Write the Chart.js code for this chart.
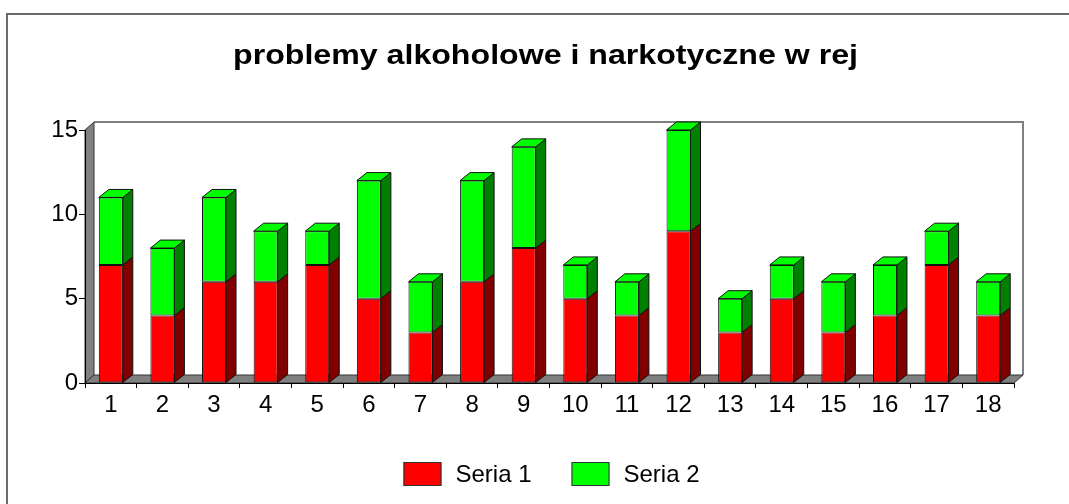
<!DOCTYPE html>
<html>
<head>
<meta charset="utf-8">
<script src="https://cdn.jsdelivr.net/npm/chart.js@4/dist/chart.umd.min.js"></script>
<style>
  html, body { margin: 0; padding: 0; background: #ffffff; }
  canvas { display: block; }
</style>
</head>
<body>
<canvas id="chart" width="1069" height="504"></canvas>
<script>
// ---- data ----
const categories = ['1','2','3','4','5','6','7','8','9','10','11','12','13','14','15','16','17','18'];
const seria1 = [7, 4, 6, 6, 7, 5, 3, 6, 8, 5, 4, 9, 3, 5, 3, 4, 7, 4];
const seria2 = [4, 4, 5, 3, 2, 7, 3, 6, 6, 2, 2, 6, 2, 2, 3, 3, 2, 2];
const yTickValues = [0, 5, 10, 15];
const seriesNames = ['Seria 1', 'Seria 2'];
const chartTitle = 'problemy alkoholowe i narkotyczne w rej';

// ---- style ----
const FONT = '"Liberation Sans", Arial, Helvetica, sans-serif';
const frontColors = ['#ff0000', '#00ff00'];
const sideColors  = ['#800000', '#008000'];
const topColors   = ['#ff0000', '#00ff00'];
const EDGE = '#111111';
const BAR_DEPTH  = { dx: 10, dy: 8 };
const WALL_DEPTH = { dx: 9,  dy: 8 };

function poly(ctx, pts, fill, stroke, lw) {
  ctx.beginPath();
  ctx.moveTo(pts[0][0], pts[0][1]);
  for (let i = 1; i < pts.length; i++) ctx.lineTo(pts[i][0], pts[i][1]);
  ctx.closePath();
  if (fill) { ctx.fillStyle = fill; ctx.fill(); }
  if (stroke) { ctx.strokeStyle = stroke; ctx.lineWidth = lw || 1; ctx.stroke(); }
}

// Panel frame, 3D walls, bar sides/tops, title and legend
const pseudo3d = {
  id: 'pseudo3d',
  beforeDraw(chart) {
    const ctx = chart.ctx;
    const y = chart.scales.y;
    const a = chart.chartArea;
    const yTop = y.getPixelForValue(y.max);
    const yBot = y.getPixelForValue(0);
    const { dx, dy } = WALL_DEPTH;
    ctx.save();
    ctx.fillStyle = '#ffffff';
    ctx.fillRect(0, 0, chart.width, chart.height);

    // outer panel border (top and left)
    ctx.strokeStyle = '#6a6a6a';
    ctx.lineWidth = 2;
    ctx.beginPath();
    ctx.moveTo(7, chart.height + 5);
    ctx.lineTo(7, 14);
    ctx.lineTo(chart.width + 5, 14);
    ctx.stroke();

    // back wall outline
    ctx.strokeStyle = '#808080';
    ctx.lineWidth = 2;
    ctx.beginPath();
    ctx.moveTo(a.left + dx, yTop - dy);
    ctx.lineTo(a.right + dx, yTop - dy);
    ctx.lineTo(a.right + dx, yBot - dy);
    ctx.stroke();

    // left side wall
    poly(ctx, [[a.left, yBot], [a.left, yTop], [a.left + dx, yTop - dy], [a.left + dx, yBot - dy]],
         '#808080', '#333333', 1);
    // floor
    poly(ctx, [[a.left, yBot], [a.right, yBot], [a.right + dx, yBot - dy], [a.left + dx, yBot - dy]],
         '#808080', '#333333', 1);
    ctx.restore();
  },
  afterDatasetsDraw(chart) {
    const ctx = chart.ctx;
    const metas = chart.getSortedVisibleDatasetMetas();
    const { dx, dy } = BAR_DEPTH;
    ctx.save();
    ctx.lineJoin = 'round';
    for (let i = 0; i < categories.length; i++) {
      // topmost non-empty segment gets the lid
      let topK = -1;
      metas.forEach((m, k) => { if (chart.data.datasets[m.index].data[i] > 0) topK = k; });
      metas.forEach((m, k) => {
        const v = chart.data.datasets[m.index].data[i];
        if (!(v > 0)) return;
        const bar = m.data[i];
        const p = bar.getProps(['x', 'y', 'base', 'width'], true);
        const L = p.x - p.width / 2, R = p.x + p.width / 2;
        const top = Math.min(p.y, p.base), bot = Math.max(p.y, p.base);
        poly(ctx, [[R, bot], [R + dx, bot - dy], [R + dx, top - dy], [R, top]],
             sideColors[m.index], EDGE, 1);
        if (k === topK) {
          poly(ctx, [[L, top], [L + dx, top - dy], [R + dx, top - dy], [R, top]],
               topColors[m.index], EDGE, 1);
        }
      });
    }
    ctx.restore();
  },
  afterDraw(chart) {
    const ctx = chart.ctx;
    const a = chart.chartArea;
    const cx = (a.left + a.right) / 2;
    ctx.save();

    // title: wide bold lettering
    ctx.fillStyle = '#000000';
    ctx.font = 'bold 27px ' + FONT;
    ctx.textAlign = 'center';
    ctx.textBaseline = 'alphabetic';
    ctx.translate(cx - 4, 64);
    ctx.scale(1.19, 1);
    ctx.fillText(chartTitle, 0, 0);
    ctx.restore();

    // legend
    ctx.save();
    ctx.font = '24px ' + FONT;
    ctx.textBaseline = 'middle';
    ctx.textAlign = 'left';
    const boxW = 38, boxH = 24, gap = 14, itemGap = 40;
    const widths = seriesNames.map(s => ctx.measureText(s).width);
    let total = 0;
    widths.forEach((w, i) => { total += boxW + gap + w + (i < widths.length - 1 ? itemGap : 0); });
    let x = cx + 2 - total / 2;
    const yMid = 474;
    seriesNames.forEach((name, i) => {
      ctx.fillStyle = frontColors[i];
      ctx.fillRect(x, yMid - boxH / 2, boxW, boxH);
      ctx.strokeStyle = '#333333';
      ctx.lineWidth = 1;
      ctx.strokeRect(x + 0.5, yMid - boxH / 2 + 0.5, boxW - 1, boxH - 1);
      ctx.fillStyle = '#000000';
      ctx.fillText(name, x + boxW + gap, yMid + 1);
      x += boxW + gap + widths[i] + itemGap;
    });
    ctx.restore();
  }
};

new Chart(document.getElementById('chart'), {
  type: 'bar',
  data: {
    labels: categories,
    datasets: [
      { label: seriesNames[0], data: seria1, backgroundColor: frontColors[0],
        borderColor: EDGE, borderWidth: 1, borderSkipped: false },
      { label: seriesNames[1], data: seria2, backgroundColor: frontColors[1],
        borderColor: EDGE, borderWidth: 1, borderSkipped: false }
    ]
  },
  options: {
    responsive: false,
    animation: false,
    devicePixelRatio: 1,
    layout: { padding: { top: 130, right: 55, bottom: 0, left: 0 } },
    datasets: { bar: { categoryPercentage: 1.0, barPercentage: 0.465 } },
    plugins: {
      legend: { display: false },
      title: { display: false },
      tooltip: { enabled: false }
    },
    scales: {
      x: {
        stacked: true,
        afterFit(scale) { scale.height = 121; },
        grid: { display: true, drawOnChartArea: false, drawTicks: true, tickLength: 5,
                color: '#000000', offset: true },
        border: { display: true, color: '#000000', width: 1 },
        ticks: { color: '#000000', font: { family: FONT, size: 24 }, padding: 3,
                 maxRotation: 0, autoSkip: false }
      },
      y: {
        stacked: true,
        min: 0,
        max: 15,
        afterFit(scale) { scale.width = 85; },
        afterBuildTicks(scale) { scale.ticks = yTickValues.map(v => ({ value: v })); },
        grid: { display: true, drawOnChartArea: false, drawTicks: true, tickLength: 6,
                color: '#000000' },
        border: { display: true, color: '#000000', width: 1 },
        ticks: { color: '#000000', font: { family: FONT, size: 24 }, padding: 1 }
      }
    }
  },
  plugins: [pseudo3d]
});
</script>
</body>
</html>
